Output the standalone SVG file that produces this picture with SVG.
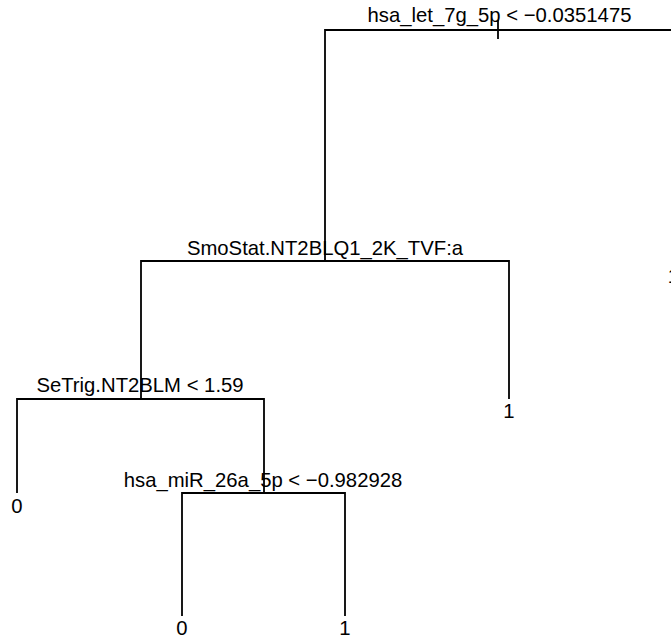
<svg xmlns="http://www.w3.org/2000/svg" width="671" height="639" viewBox="0 0 671 639">
<style>
.e{stroke:#000;stroke-width:1.8;fill:none;stroke-linecap:butt}
text{font-family:"Liberation Sans",Arial,sans-serif;font-size:20.3px;fill:#000;text-anchor:middle}
</style>
<rect width="671" height="639" fill="#fff"/>
<g id="connectors">
<path class="e" d="M498 20V39"/>
<path class="e" d="M325 261V30H680"/>
<path class="e" d="M141 399V261H509V399"/>
<path class="e" d="M17 493V399H264V493"/>
<path class="e" d="M182 616V493H345V616"/>
<path class="e" d="M680 30V264"/>
</g>
<g id="n1"><text x="499.5" y="22">hsa_let_7g_5p &lt; −0.0351475</text></g>
<g id="n2"><text x="325" y="255">SmoStat.NT2BLQ1_2K_TVF:a</text></g>
<g id="n3"><text x="673.5" y="283">1</text></g>
<g id="n4"><text x="140" y="392">SeTrig.NT2BLM &lt; 1.59</text></g>
<g id="n5"><text x="509" y="418">1</text></g>
<g id="n8"><text x="17" y="513">0</text></g>
<g id="n9"><text x="263" y="487">hsa_miR_26a_5p &lt; −0.982928</text></g>
<g id="n18"><text x="182" y="635">0</text></g>
<g id="n19"><text x="345" y="635">1</text></g>
</svg>
